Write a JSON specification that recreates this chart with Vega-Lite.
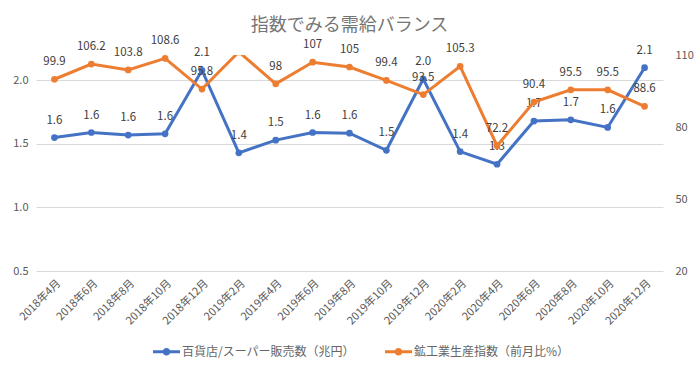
{
  "$schema": "https://vega.github.io/schema/vega-lite/v6.json",
  "width": 627,
  "height": 216,
  "autosize": {"type": "none"},
  "padding": {"left": 36, "top": 55, "right": 37, "bottom": 100},
  "background": "white",
  "title": {"text": "指数でみる需給バランス", "fontSize": 18, "font": "Noto Sans CJK JP", "fontWeight": "normal", "color": "#757575", "anchor": "middle", "frame": "group", "offset": -6},
  "config": {
    "view": {"stroke": null},
    "font": "Noto Sans CJK JP",
    "axis": {"labelColor": "#595959", "labelFontSize": 11, "domain": false, "ticks": false, "title": null, "labelFont": "Noto Sans CJK JP"}
  },
  "data": {"values": [
    {"date": "2018年4月", "series": "百貨店/スーパー販売数（兆円）", "value": 1.55, "label": "1.6"},
    {"date": "2018年6月", "series": "百貨店/スーパー販売数（兆円）", "value": 1.59, "label": "1.6"},
    {"date": "2018年8月", "series": "百貨店/スーパー販売数（兆円）", "value": 1.57, "label": "1.6"},
    {"date": "2018年10月", "series": "百貨店/スーパー販売数（兆円）", "value": 1.58, "label": "1.6"},
    {"date": "2018年12月", "series": "百貨店/スーパー販売数（兆円）", "value": 2.08, "label": "2.1"},
    {"date": "2019年2月", "series": "百貨店/スーパー販売数（兆円）", "value": 1.43, "label": "1.4"},
    {"date": "2019年4月", "series": "百貨店/スーパー販売数（兆円）", "value": 1.53, "label": "1.5"},
    {"date": "2019年6月", "series": "百貨店/スーパー販売数（兆円）", "value": 1.59, "label": "1.6"},
    {"date": "2019年8月", "series": "百貨店/スーパー販売数（兆円）", "value": 1.585, "label": "1.6"},
    {"date": "2019年10月", "series": "百貨店/スーパー販売数（兆円）", "value": 1.45, "label": "1.5"},
    {"date": "2019年12月", "series": "百貨店/スーパー販売数（兆円）", "value": 2.01, "label": "2.0"},
    {"date": "2020年2月", "series": "百貨店/スーパー販売数（兆円）", "value": 1.44, "label": "1.4"},
    {"date": "2020年4月", "series": "百貨店/スーパー販売数（兆円）", "value": 1.34, "label": "1.3"},
    {"date": "2020年6月", "series": "百貨店/スーパー販売数（兆円）", "value": 1.68, "label": "1.7"},
    {"date": "2020年8月", "series": "百貨店/スーパー販売数（兆円）", "value": 1.69, "label": "1.7"},
    {"date": "2020年10月", "series": "百貨店/スーパー販売数（兆円）", "value": 1.63, "label": "1.6"},
    {"date": "2020年12月", "series": "百貨店/スーパー販売数（兆円）", "value": 2.1, "label": "2.1"},
    {"date": "2018年4月", "series": "鉱工業生産指数（前月比%）", "value": 99.9, "label": "99.9"},
    {"date": "2018年6月", "series": "鉱工業生産指数（前月比%）", "value": 106.2, "label": "106.2"},
    {"date": "2018年8月", "series": "鉱工業生産指数（前月比%）", "value": 103.8, "label": "103.8"},
    {"date": "2018年10月", "series": "鉱工業生産指数（前月比%）", "value": 108.6, "label": "108.6"},
    {"date": "2018年12月", "series": "鉱工業生産指数（前月比%）", "value": 95.8, "label": "95.8"},
    {"date": "2019年2月", "series": "鉱工業生産指数（前月比%）", "value": 111.3, "label": ""},
    {"date": "2019年4月", "series": "鉱工業生産指数（前月比%）", "value": 98, "label": "98"},
    {"date": "2019年6月", "series": "鉱工業生産指数（前月比%）", "value": 107, "label": "107"},
    {"date": "2019年8月", "series": "鉱工業生産指数（前月比%）", "value": 105, "label": "105"},
    {"date": "2019年10月", "series": "鉱工業生産指数（前月比%）", "value": 99.4, "label": "99.4"},
    {"date": "2019年12月", "series": "鉱工業生産指数（前月比%）", "value": 93.5, "label": "93.5"},
    {"date": "2020年2月", "series": "鉱工業生産指数（前月比%）", "value": 105.3, "label": "105.3"},
    {"date": "2020年4月", "series": "鉱工業生産指数（前月比%）", "value": 72.2, "label": "72.2"},
    {"date": "2020年6月", "series": "鉱工業生産指数（前月比%）", "value": 90.4, "label": "90.4"},
    {"date": "2020年8月", "series": "鉱工業生産指数（前月比%）", "value": 95.5, "label": "95.5"},
    {"date": "2020年10月", "series": "鉱工業生産指数（前月比%）", "value": 95.5, "label": "95.5"},
    {"date": "2020年12月", "series": "鉱工業生産指数（前月比%）", "value": 88.6, "label": "88.6"}
  ]},
  "encoding": {
    "x": {"field": "date", "type": "ordinal", "sort": null,
      "axis": {"labelAngle": -45, "labelPadding": 6, "grid": false}}
  },
  "layer": [
    {
      "transform": [{"filter": "datum.series == '百貨店/スーパー販売数（兆円）'"}],
      "encoding": {
        "y": {"field": "value", "type": "quantitative",
          "scale": {"domain": [0.5, 2.2], "nice": false, "zero": false},
          "axis": {"orient": "left", "values": [0.5, 1.0, 1.5, 2.0], "format": ".1f", "grid": true, "gridColor": "#d9d9d9", "gridWidth": 1, "labelPadding": 8}}
      },
      "layer": [
        {"mark": {"type": "line", "strokeWidth": 3, "point": {"filled": true, "size": 45}},
         "encoding": {"color": {"field": "series", "type": "nominal",
            "scale": {"domain": ["百貨店/スーパー販売数（兆円）", "鉱工業生産指数（前月比%）"], "range": ["#4472C4", "#ED7D31"]},
            "legend": {"orient": "none", "legendX": 117, "legendY": 283, "direction": "horizontal", "title": null,
              "symbolType": "M-1,-0.11H1V0.11H-1Z M0.28,0A0.28,0.28,0,1,1,-0.28,0A0.28,0.28,0,1,1,0.28,0Z",
              "symbolSize": 729, "labelFontSize": 12, "labelColor": "#666666", "labelLimit": 400, "columnPadding": 30, "labelOffset": 2,
              "symbolStrokeWidth": 0, "symbolOpacity": 1,
              "encode": {"symbols": {"update": {"fill": {"scale": "color", "field": "value"}, "stroke": {"value": "transparent"}}}}}}}},
        {"mark": {"type": "text", "dy": -17, "fontSize": 11.5, "color": "#404040"},
         "encoding": {"text": {"field": "label"}}}
      ]
    },
    {
      "transform": [{"filter": "datum.series == '鉱工業生産指数（前月比%）'"}],
      "encoding": {
        "y": {"field": "value", "type": "quantitative",
          "scale": {"domain": [20, 110], "nice": false, "zero": false},
          "axis": {"orient": "right", "values": [20, 50, 80, 110], "grid": false, "labelPadding": 12}}
      },
      "layer": [
        {"mark": {"type": "line", "strokeWidth": 3, "clip": true, "point": {"filled": true, "size": 45}},
         "encoding": {"color": {"field": "series", "type": "nominal"}}},
        {"mark": {"type": "text", "dy": -17, "fontSize": 11.5, "color": "#404040"},
         "encoding": {"text": {"field": "label"}}}
      ]
    }
  ],
  "resolve": {"scale": {"y": "independent"}}
}
